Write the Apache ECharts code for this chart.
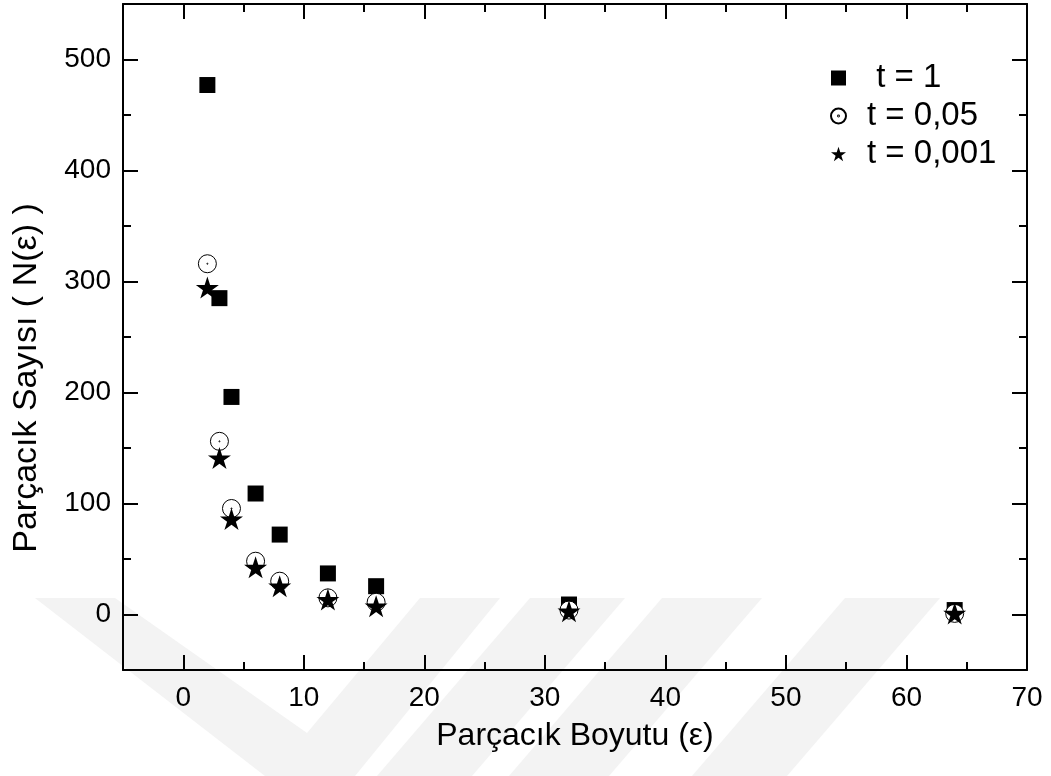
<!DOCTYPE html>
<html>
<head>
	<meta charset="utf-8">
	<title>Parçacık Sayısı</title>
	<script src="https://cdn.jsdelivr.net/npm/echarts@6/dist/echarts.min.js"></script>
	<style>
		html, body { margin: 0; padding: 0; background: #fff; }
		#chart { width: 1051px; height: 776px; }
	</style>
</head>
<body>
	<div id="chart"></div>
	<script>
		// parçacık boyutu (x) ve her t için parçacık sayısı
		var sizes = [2, 3, 4, 6, 8, 12, 16, 32, 64];
		var countT1 = [477, 285, 196, 109, 72, 37, 25.5, 9, 4];
		var countT005 = [316, 156, 95.5, 48, 30, 15, 11, 4, 1];
		var countT0001 = [294.5, 141, 86, 42.5, 25.5, 13.5, 7.5, 3, 1];
		var seriesNames = [' t = 1', 't = 0,05', 't = 0,001'];
		var xMajorTicks = [0, 10, 20, 30, 40, 50, 60, 70];
		var yMajorTicks = [0, 100, 200, 300, 400, 500];

		var font = 'Liberation Sans';
		var starPath = 'path://M0,-10L2.245,-3.09L9.51,-3.09L3.633,1.18L5.878,8.09L0,3.82L-5.878,8.09L-3.633,1.18L-9.51,-3.09L-2.245,-3.09Z';
		var dotCirclePath = 'path://M10,0A10,10 0 1,1 -10,0A10,10 0 1,1 10,0ZM0.6,0A0.6,0.6 0 1,1 -0.6,0A0.6,0.6 0 1,1 0.6,0Z';

		function pairs(ys) {
			return sizes.map(function (x, i) { return [x, ys[i]]; });
		}

		var lineStyle = { color: '#000', width: 2 };

		// kısa (ara) çentikler + etiketler
		function minorX(pos, labels) {
			return {
				type: 'value', position: pos, min: -5, max: 70, interval: 5,
				axisLine: { show: true, onZero: false, lineStyle: lineStyle },
				axisTick: { show: true, inside: true, length: 8, lineStyle: lineStyle },
				splitLine: { show: false },
				axisLabel: {
					show: labels, margin: 14, color: '#000', fontFamily: font, fontSize: 28,
					formatter: function (v) { return v % 10 === 0 ? String(v) : ''; }
				}
			};
		}
		// uzun (ana) çentikler
		function majorX(pos) {
			return {
				type: 'value', position: pos, min: -5, max: 70,
				axisLine: { show: false, onZero: false },
				axisTick: { show: true, inside: true, length: 15, customValues: xMajorTicks, lineStyle: lineStyle },
				splitLine: { show: false },
				axisLabel: { show: false }
			};
		}
		function minorY(pos, labels) {
			return {
				type: 'value', position: pos, min: -50, max: 550, interval: 50,
				axisLine: { show: true, onZero: false, lineStyle: lineStyle },
				axisTick: { show: true, inside: true, length: 8, lineStyle: lineStyle },
				splitLine: { show: false },
				axisLabel: {
					show: labels, margin: 12, color: '#000', fontFamily: font, fontSize: 28,
					formatter: function (v) { return v % 100 === 0 ? String(v) : ''; }
				}
			};
		}
		function majorY(pos) {
			return {
				type: 'value', position: pos, min: -50, max: 550,
				axisLine: { show: false, onZero: false },
				axisTick: { show: true, inside: true, length: 15, customValues: yMajorTicks, lineStyle: lineStyle },
				splitLine: { show: false },
				axisLabel: { show: false }
			};
		}

		var xAxes = [minorX('bottom', true), majorX('bottom'), minorX('top', false), majorX('top')];
		xAxes[0].name = 'Parçacık Boyutu (ε)';
		xAxes[0].nameLocation = 'middle';
		xAxes[0].nameGap = 50;
		xAxes[0].nameTextStyle = { color: '#000', fontFamily: font, fontSize: 32 };

		var wm = '#f3f3f3';
		var chart = echarts.init(document.getElementById('chart'));
		chart.setOption({
			animation: false,
			backgroundColor: '#fff',
			grid: { left: 123, right: 24, top: 4, bottom: 106 },
			xAxis: xAxes,
			yAxis: [minorY('left', true), majorY('left'), minorY('right', false), majorY('right')],
			legend: {
				orient: 'vertical', left: 825, top: 55,
				itemWidth: 15, itemHeight: 15, itemGap: 2,
				textStyle: { color: '#000', fontFamily: font, fontSize: 33, lineHeight: 36, padding: [0, 0, 0, 16] },
				data: seriesNames
			},
			graphic: [
				// soluk filigran
				{ type: 'polygon', z: -10, silent: true, shape: { points: [[35, 598], [115, 598], [307, 733], [420, 598], [500, 598], [355, 776], [265, 776]] }, style: { fill: wm } },
				{ type: 'polygon', z: -10, silent: true, shape: { points: [[530, 598], [625, 598], [472, 776], [377, 776]] }, style: { fill: wm } },
				{ type: 'polygon', z: -10, silent: true, shape: { points: [[662, 598], [762, 598], [609, 776], [509, 776]] }, style: { fill: wm } },
				{ type: 'polygon', z: -10, silent: true, shape: { points: [[845, 598], [940, 598], [787, 776], [692, 776]] }, style: { fill: wm } },
				{
					type: 'text', x: 27, y: 378, rotation: Math.PI / 2,
					style: {
						text: 'Parçacık Sayısı ( N(ε) )', x: 0, y: 0,
						align: 'center', verticalAlign: 'middle',
						fill: '#000', font: '34px "Liberation Sans"'
					}
				}
			],
			series: [
				{
					name: seriesNames[0], type: 'scatter', xAxisIndex: 0, yAxisIndex: 0, z: 3,
					symbol: 'rect', symbolSize: 16,
					itemStyle: { color: '#000', opacity: 1 },
					data: pairs(countT1)
				},
				{
					name: seriesNames[1], type: 'scatter', xAxisIndex: 0, yAxisIndex: 0, z: 4,
					symbol: dotCirclePath, symbolSize: 18,
					itemStyle: { color: '#fff', borderColor: '#000', borderWidth: 1, opacity: 1 },
					data: pairs(countT005)
				},
				{
					name: seriesNames[2], type: 'scatter', xAxisIndex: 0, yAxisIndex: 0, z: 5,
					symbol: starPath, symbolSize: [23, 22],
					itemStyle: { color: '#000', opacity: 1 },
					data: pairs(countT0001)
				}
			]
		});
	</script>
</body>
</html>
